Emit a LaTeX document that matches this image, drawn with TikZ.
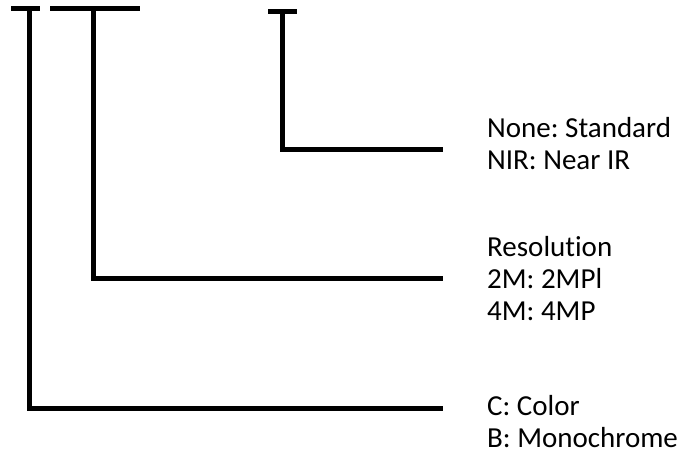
\documentclass[tikz,border=0pt]{standalone}
\usepackage{fontspec}
\setmainfont{Carlito}[Ligatures=NoCommon]
\frenchspacing
\usetikzlibrary{positioning}
\tikzset{
  wire/.style={line width=5pt,line join=miter},
  lbl/.style={align=left,inner sep=0pt,anchor=base west,
    font=\fontsize{29}{32}\selectfont}
}
\begin{document}
\begin{tikzpicture}[x=1pt,y=-1pt]
      \useasboundingbox (0,0) rectangle (681,455);
      % tops of the three code positions
      \coordinate (tC) at (29, 8.5);
      \coordinate (tR) at (93, 8.5);
      \coordinate (tN) at (282, 11.5);
      \coordinate (eN) at (443, 149);
      \coordinate (eR) at (443, 278);
      \coordinate (eC) at (443, 408);
      \draw[wire] (11, 8.5) -- (40, 8.5);
      \draw[wire] (50, 8.5) -- (140, 8.5);
      \draw[wire] (268, 11.5) -- (297, 11.5);
      \draw[wire] (tN) |- (eN);
      \draw[wire] (tR) |- (eR);
      \draw[wire] (tC) |- (eC);
      % base anchor sits on the last line
      \node[lbl] (filter) at (487, 169) {None: Standard\\NIR: Near IR};
      \node[lbl] (res) at (487, 320) {Resolution\\2M: 2MPl\\4M: 4MP};
      \node[lbl] (colour) at (487, 447) {C: Color\\B: Monochrome};
    \end{tikzpicture}
\end{document}
